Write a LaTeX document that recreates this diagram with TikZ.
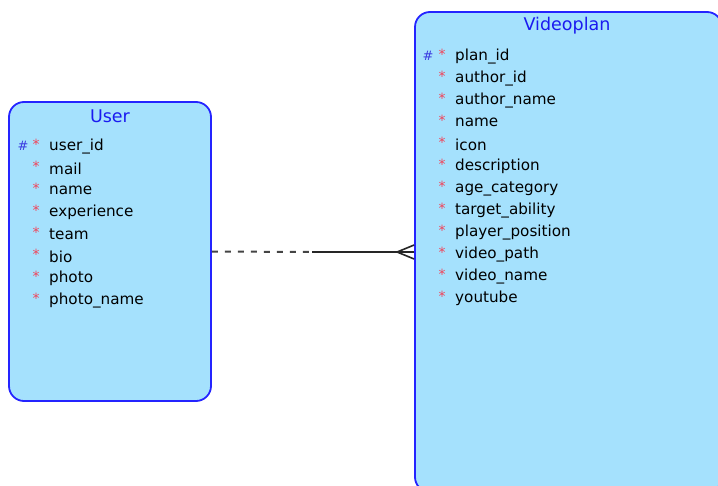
\documentclass[tikz,border=0pt]{standalone}
\usepackage{fontspec}
\setmainfont{DejaVu Sans}
\usetikzlibrary{calc}
\begin{document}
\begin{tikzpicture}[x=1pt,y=-1pt,
  entity/.style={draw=entityborder, line width=1.8pt, fill=entityfill,
    rounded corners=15pt, inner sep=0pt},
  title/.style={text=titleblue, font=\fontsize{17.5}{20}\selectfont},
  attr/.style={anchor=west, inner sep=0pt, font=\fontsize{15.2}{18}\selectfont},
  pk/.style={anchor=center, inner sep=0pt, text=keyblue, font=\fontsize{13}{16}\selectfont},
  req/.style={anchor=center, inner sep=0pt, text=reqred, font=\fontsize{14}{16}\selectfont},
  rel/.style={line width=1.6pt, draw=black!85}]
\definecolor{entityfill}{HTML}{A5E1FD}
\definecolor{entityborder}{HTML}{2424FF}
\definecolor{titleblue}{HTML}{1A1AF0}
\definecolor{keyblue}{HTML}{3A3AE0}
\definecolor{reqred}{HTML}{F0445A}
\definecolor{dashgray}{HTML}{444444}
\useasboundingbox (0,0) rectangle (718,485);
\clip (0,0) rectangle (718,485);

% entity boxes
\node[entity, minimum width=202pt, minimum height=299pt] (user) at (110,251.5) {};
\node[entity, minimum width=307pt, minimum height=480pt] (vp) at (568.5,252) {};

% User entity
\node[title] (usertitle) at (110,116) {User};
\node[pk] (userpk) at (23,146) {\#};
\foreach \y/\t [count=\i] in {145/user\_id,167/mail,189/name,211/experience,233/team,255/bio,277/photo,299/photo\_name}{
  \node[req] (userreq\i) at (36,\y-1) {*};
  \node[attr] (userattr\i) at (49,\y+1.5) {\t};
}

% Videoplan entity
\node[title] (vptitle) at (567,26) {Videoplan};
\node[pk] (vppk) at (428,56) {\#};
\foreach \y/\t [count=\i] in {55/plan\_id,77/author\_id,99/author\_name,121/name,143/icon,165/description,187/age\_category,209/target\_ability,231/player\_position,253/video\_path,275/video\_name,297/youtube}{
  \node[req] (vpreq\i) at (442,\y-1) {*};
  \node[attr] (vpattr\i) at (455,\y+1.5) {\t};
}

% relationship: optional on the User side, many on the Videoplan side
\coordinate (relmid) at (312,252);
\draw[rel, draw=dashgray, line width=2pt, dash pattern=on 6pt off 7pt] (user.east) -- (relmid);
\draw[rel] (relmid) -- (vp.west);
\draw[rel] ($(vp.west)+(0,-7)$) -- ($(vp.west)+(-17,0)$) -- ($(vp.west)+(0,7)$);
\end{tikzpicture}
\end{document}
